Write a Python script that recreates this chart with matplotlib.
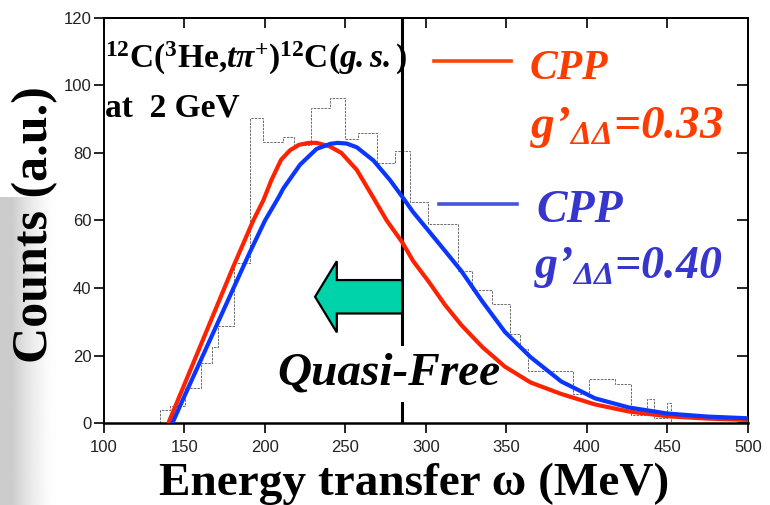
import numpy as np
import matplotlib
matplotlib.use("Agg")
import matplotlib.pyplot as plt
from matplotlib.patches import FancyArrow

plt.rcParams["mathtext.fontset"] = "custom"
plt.rcParams["mathtext.rm"] = "Liberation Serif:bold"
plt.rcParams["mathtext.it"] = "Liberation Serif:bold:italic"
plt.rcParams["mathtext.bf"] = "Liberation Serif:bold"
plt.rcParams["mathtext.sf"] = "Liberation Serif:bold:italic"

# Measured spectrum (histogram), bin edges in MeV
hist_edges = [135, 141, 150.5, 160.5, 167, 171, 181, 190.5, 199, 211, 218,
              228.5, 240.5, 249.5, 258, 269.5, 280.5, 290, 301.5, 320, 328.5,
              341, 352, 358.5, 363.5, 391.5, 401, 417.5, 427.5, 437, 441.5,
              449.5, 452]
hist_counts = [3.9, 5.0, 10.5, 17.7, 22.4, 28.6, 47.5, 90.5, 83.3, 84.8,
               82.5, 93.2, 96.2, 84.0, 85.8, 77.0, 80.5, 65.6, 58.9, 45.0,
               39.4, 35.3, 26.4, 21.8, 15.5, 8.6, 13.0, 11.5, 2.5, 7.0, 1.5,
               5.8]

# CPP calculation, g'_DD = 0.33
cpp33_w = [140, 150, 160, 170, 180, 192.7, 199, 204, 210, 215.5, 221, 227,
           232, 240, 247.5, 257, 267, 275.6, 285.3, 292, 301.5, 311.8, 322,
           335, 349, 365, 384, 405, 426, 450, 475, 500]
cpp33_y = [0, 11.5, 23, 34.5, 46, 60, 66, 72, 78, 80.8, 82.4, 83, 83, 82,
           80, 75, 67, 60, 53.5, 48, 42, 35, 29, 22.5, 16.7, 12, 8.6, 5.5,
           3.4, 2.0, 1.3, 0.9]

# CPP calculation, g'_DD = 0.40
cpp40_w = [142.5, 150, 160, 170, 180, 190, 200, 208, 211.4, 221.7, 232,
           240.4, 245, 250.7, 257, 267.3, 277.6, 285.3, 292, 301.5, 311.8,
           322, 335, 349, 365, 384, 405, 426, 450, 475, 500]
cpp40_y = [0, 8, 18.5, 29, 39.5, 50, 60, 66.5, 69.5, 76.5, 81.2, 82.7, 83,
           82.8, 81.7, 77.8, 72, 67, 62.5, 57, 51, 45, 36, 27, 19.5, 12.3,
           7.3, 4.6, 2.8, 1.9, 1.4]

quasi_free_edge = 285.3
x_ticks = [100, 150, 200, 250, 300, 350, 400, 450, 500]
y_ticks = [0, 20, 40, 60, 80, 100, 120]

RED = "#ff2200"
BLUE = "#0a36ff"
RED_TXT = "#ff3c00"
BLUE_TXT = "#3636cc"
SERIF = "Liberation Serif"
TICKFONT = ["Liberation Sans Narrow", "Liberation Sans", "DejaVu Sans"]

fig = plt.figure(figsize=(7.7, 5.05), dpi=100)
fig.patch.set_facecolor("white")

# soft grey shadow along the left edge
shadow = fig.add_axes([0, 0, 0.075, 0.61])
shadow.set_axis_off()
grad = np.linspace(0, 1, 200)
alpha = np.clip(1 - (grad - 0.2) / 0.8, 0, 1) ** 1.6
alpha[grad < 0.2] = 1
img = np.ones((2, 200, 4))
img[..., :3] = 0.80
img[..., 3] = alpha
shadow.imshow(img, aspect="auto", extent=[0, 1, 0, 1])
shadow.set_xlim(0, 1)
shadow.set_ylim(0, 1)

ax = fig.add_axes([104 / 770, 1 - 423 / 505, 644 / 770, 405 / 505])
ax.set_xlim(100, 500)
ax.set_ylim(0, 120)

ax.stairs(hist_counts, hist_edges, color="#6a6a6a", lw=0.7,
          linestyle=(0, (2.5, 1.2)), zorder=2)
ax.plot(cpp33_w, cpp33_y, color=RED, lw=3.0, zorder=8,
        solid_joinstyle="round")
ax.plot(cpp40_w, cpp40_y, color=BLUE, lw=3.0, zorder=8,
        solid_joinstyle="round")

ax.axvline(quasi_free_edge, color="black", lw=2.2, zorder=3)

arrow = FancyArrow(quasi_free_edge, 37.4, -54.2, 0, width=9.9,
                   head_width=21.1, head_length=13.5,
                   length_includes_head=True, facecolor="#00d3aa",
                   edgecolor="black", lw=1.6, zorder=5)
ax.add_patch(arrow)

ax.text(0.4425, 0.094, "Quasi-Free", transform=ax.transAxes, ha="center",
        va="baseline", fontsize=34, family=SERIF, weight="bold",
        style="italic", color="black", zorder=6,
        bbox=dict(facecolor="white", edgecolor="none", pad=5))

# reaction label
ax.text(0.002, 0.877,
        r"$^{12}$C($^{3}$He,$t\mathsf{\pi}^{+}$)$^{12}$C($\mathsf{g.s.}$)",
        transform=ax.transAxes, ha="left", va="baseline", fontsize=24,
        family=SERIF, weight="bold", color="black", zorder=6)
ax.text(0.002, 0.756, "at  2 GeV", transform=ax.transAxes, ha="left",
        va="baseline", fontsize=24, family=SERIF, weight="bold",
        color="black", zorder=6)

# model labels
ax.plot([0.512, 0.632], [0.894, 0.894], transform=ax.transAxes,
        color="#ff4400", lw=2.6, clip_on=False, zorder=6)
ax.text(0.661, 0.849, "CPP", transform=ax.transAxes, ha="left",
        va="baseline", fontsize=30, family=SERIF, weight="bold",
        style="italic", color=RED_TXT, zorder=6)
ax.text(0.661, 0.704, r"g’$_{\mathsf{\Delta\Delta}}$=0.33",
        transform=ax.transAxes, ha="left", va="baseline", fontsize=34,
        family=SERIF, weight="bold", style="italic", color=RED_TXT,
        zorder=6)

ax.plot([0.52, 0.641], [0.541, 0.541], transform=ax.transAxes,
        color="#4455dd", lw=2.6, clip_on=False, zorder=6)
ax.text(0.672, 0.496, "CPP", transform=ax.transAxes, ha="left",
        va="baseline", fontsize=33, family=SERIF, weight="bold",
        style="italic", color=BLUE_TXT, zorder=6)
ax.text(0.668, 0.358, r"g’$_{\mathsf{\Delta\Delta}}$=0.40",
        transform=ax.transAxes, ha="left", va="baseline", fontsize=33,
        family=SERIF, weight="bold", style="italic", color=BLUE_TXT,
        zorder=6)

# frame and ticks
for side in ["left", "bottom", "top", "right"]:
    ax.spines[side].set_linewidth(1.4)
    ax.spines[side].set_color("black")
ax.spines["bottom"].set_linewidth(1.8)

ax.set_xticks(x_ticks)
ax.set_yticks(y_ticks)
ax.tick_params(direction="out", length=7, width=1.2, top=False,
               right=False, colors="black", labelcolor="#222222",
               labelsize=12)
ax.tick_params(axis="x", pad=5)
ax.tick_params(axis="y", pad=2)
for lab in ax.get_xticklabels() + ax.get_yticklabels():
    lab.set_family(TICKFONT)

top = ax.secondary_xaxis("top")
top.set_xticks(x_ticks)
top.tick_params(direction="in", length=7, width=1.2, labeltop=False)
top.spines["top"].set_linewidth(1.4)
right = ax.secondary_yaxis("right")
right.set_yticks(y_ticks)
right.tick_params(direction="in", length=8, width=1.2, labelright=False)
right.spines["right"].set_linewidth(1.4)

fig.text(0.538, 0.02, "Energy transfer ω (MeV)", ha="center",
         va="baseline", fontsize=34, family=SERIF, weight="bold",
         color="black")
fig.text(0.045, 0.556, "Counts (a.u.)", ha="center", va="center",
         rotation=90, fontsize=36, family=SERIF, weight="bold",
         color="black")

fig.savefig("out.png", dpi=100, facecolor="white")
